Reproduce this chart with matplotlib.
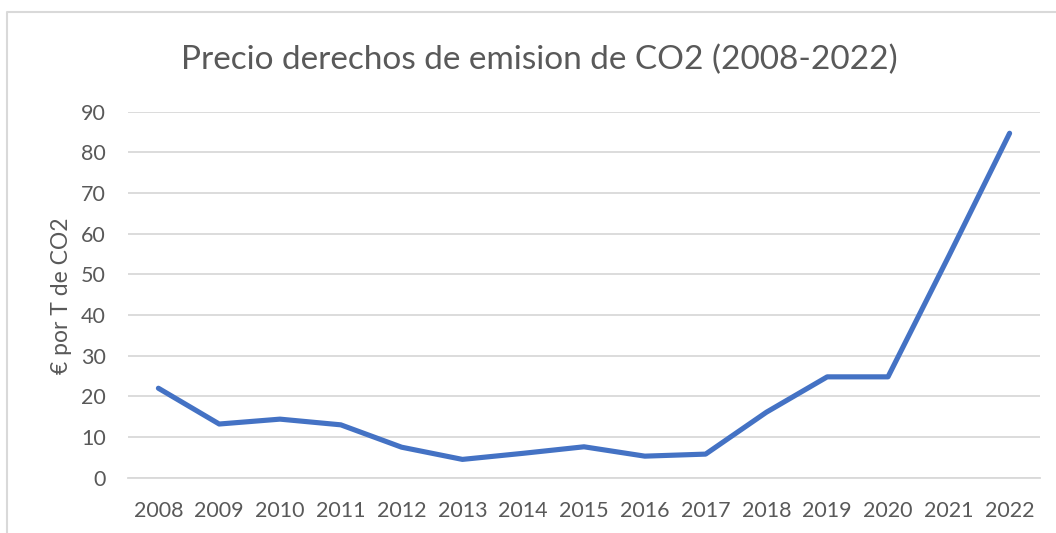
import matplotlib
matplotlib.use("Agg")
import matplotlib.pyplot as plt
from matplotlib.lines import Line2D

years = ["2008", "2009", "2010", "2011", "2012", "2013", "2014", "2015",
         "2016", "2017", "2018", "2019", "2020", "2021", "2022"]
prices = [22.0, 13.2, 14.4, 13.0, 7.5, 4.5, 6.0, 7.6, 5.3, 5.8, 16.1, 24.8, 24.8, 54.5, 84.7]
yticks = [0, 10, 20, 30, 40, 50, 60, 70, 80, 90]

title = "Precio derechos de emision de CO2 (2008-2022)"
ylabel = "€ por T de CO2"

W, H = 1056, 533
fig = plt.figure(figsize=(W / 100, H / 100), dpi=100)
fig.patch.set_facecolor("white")

ax = fig.add_axes([128 / W, 1 - 477.7 / H, (1040 - 128) / W, (477.7 - 111.7) / H])
x = list(range(len(years)))
ax.plot(x, prices, color="#4472C4", linewidth=3.7, solid_capstyle="round", solid_joinstyle="round", zorder=3)
ax.set_xlim(-0.5, len(years) - 0.5)
ax.set_ylim(0, 90)
ax.set_yticks(yticks)
ax.set_xticks(x)
ax.set_xticklabels(years)
ax.grid(axis="y", color="#D9D9D9", linewidth=1.3)
ax.set_axisbelow(True)
for s in ["top", "right", "left"]:
    ax.spines[s].set_visible(False)
ax.spines["bottom"].set_color("#D9D9D9")
ax.spines["bottom"].set_linewidth(1.3)
ax.tick_params(axis="both", length=0, colors="#595959", labelsize=15.5)
ax.tick_params(axis="y", pad=16)
ax.tick_params(axis="x", pad=17)
for lab in ax.get_xticklabels() + ax.get_yticklabels():
    lab.set_fontfamily("Lato")

fig.text(62 / W, 1 - 296 / H, ylabel, rotation=90, ha="center", va="center",
         fontsize=16.5, color="#595959", family="Lato")
fig.text(539 / W, 1 - 60 / H, title, ha="center", va="center",
         fontsize=24, color="#595959", family="Lato")

fig.add_artist(Line2D([7 / W, 7 / W, 1.0], [0.0, 1 - 12 / H, 1 - 12 / H],
                      transform=fig.transFigure, color="#D9D9D9", linewidth=1.5))

fig.savefig("out.png", dpi=100)
